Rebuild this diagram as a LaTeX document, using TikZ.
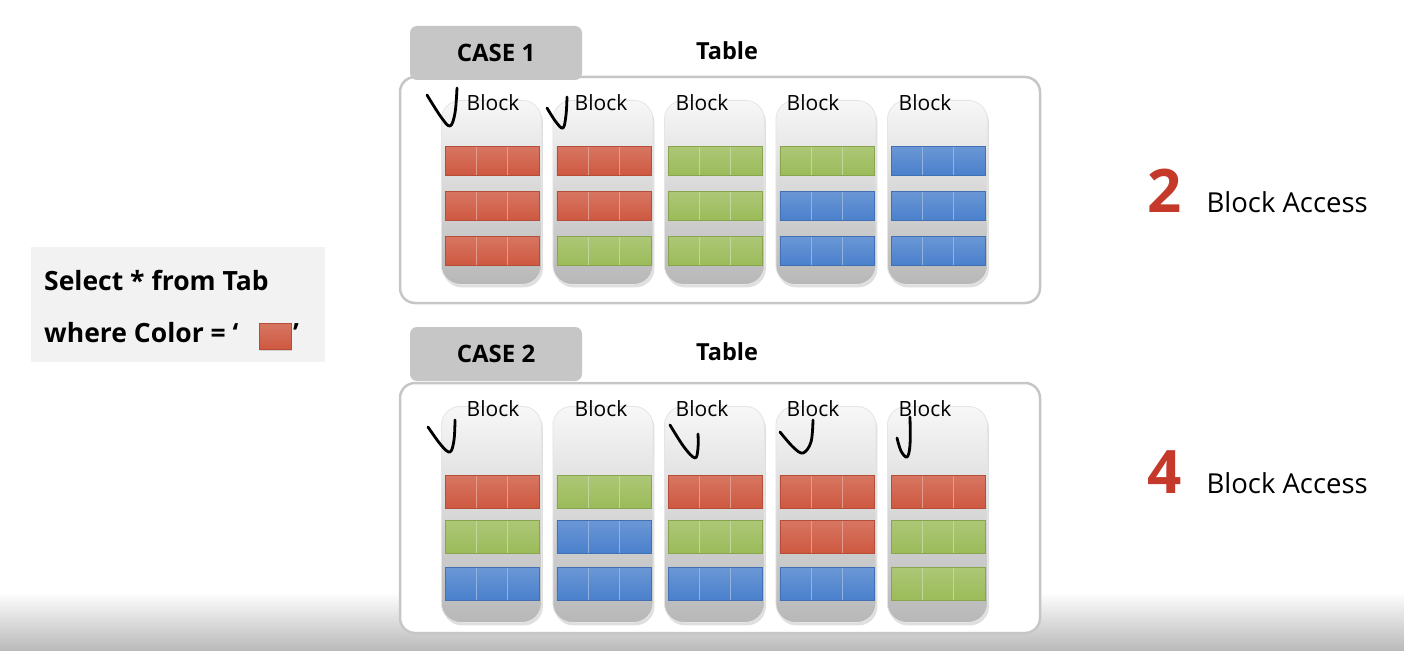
\documentclass[tikz,border=0pt]{standalone}
\usepackage{fontspec}
\setmainfont{Open Sans}
\usetikzlibrary{positioning}
\usetikzlibrary{shadows}

\definecolor{rowred}{HTML}{CE5840}
\definecolor{rowgreen}{HTML}{9BBB59}
\definecolor{rowblue}{HTML}{4A80CC}
\definecolor{tabgray}{HTML}{C6C6C6}
\definecolor{framegray}{HTML}{C6C6C6}
\definecolor{querygray}{HTML}{F2F2F2}
\definecolor{countred}{HTML}{C4392A}

\tikzset{
    tableframe/.style={draw=framegray, line width=2.5pt, fill=white, rounded corners=15pt, minimum width=640, inner sep=0pt},
    casetab/.style={fill=tabgray, rounded corners=7pt, minimum width=172, minimum height=54, inner sep=0pt, font=\fontsize{24}{28}\selectfont\bfseries},
    tabletitle/.style={font=\fontsize{23.5}{28}\selectfont\bfseries},
    blockbox/.style={rounded corners=19pt, top color=white!97!black, bottom color=black!28, draw=black!10, line width=.8pt, minimum width=100, inner sep=0pt, anchor=north west, drop shadow={opacity=.25, shadow xshift=1.5pt, shadow yshift=-3pt}},
    blocklabel/.style={font=\fontsize{21}{24}\selectfont, inner sep=0pt},
    rowbox/.style={top color=row#1!82!white, bottom color=row#1, draw=row#1!88!black, line width=.5pt, minimum width=94, inner sep=0pt, anchor=north west,
        path picture={
            \draw[row#1!60!white, line width=1pt] ([xshift=31.3pt]path picture bounding box.north west) -- ([xshift=31.3pt]path picture bounding box.south west);
            \draw[row#1!60!white, line width=1pt] ([xshift=62.6pt]path picture bounding box.north west) -- ([xshift=62.6pt]path picture bounding box.south west);
        }},
    checkmark/.style={line width=2.8pt, line cap=round, line join=round},
    querytext/.style={font=\fontsize{26.5}{30}\selectfont\bfseries, inner sep=0pt},
    countnum/.style={text=countred, font=\fontsize{60}{64}\selectfont\bfseries, inner sep=0pt},
    counttext/.style={font=\fontsize{27.5}{32}\selectfont, inner sep=0pt}
}

\begin{document}
\begin{tikzpicture}[x=1pt,y=-1pt]
    \useasboundingbox (0,0) rectangle (1404,650);
    \shade[top color=white, bottom color=black!27] (0,592) rectangle (1404,650);

    \node[fill=querygray, minimum width=294, minimum height=115, inner sep=0pt] (query) at (178,304.5) {};
    \node[querytext, anchor=base west] (select) at (44,290) {Select * from Tab};
    \node[querytext, anchor=base west] (where) at (44,342) {where Color = ‘};
    \node[rowbox=red, minimum width=32, minimum height=26, path picture={}, drop shadow={opacity=.3, shadow xshift=1pt, shadow yshift=-2pt}] (swatch) at (259,323) {};
    \node[querytext, anchor=base west] (quote) at (293,342) {’};

    \node[tableframe, minimum height=226] (frame1) at (720,190) {};
    \node[casetab] (tab1) at (496,53) {CASE 1};
    \node[tabletitle] (title1) at (727,51) {Table};

    \foreach \i/\lx/\ca/\cb/\cc in {1/493/red/red/red, 2/601/red/red/green, 3/702/green/green/green, 4/813/green/blue/blue, 5/925/blue/blue/blue} {
        \pgfmathsetmacro{\bx}{441+111.5*(\i-1)}
        \node[blockbox, minimum height=184] (a\i) at (\bx,100) {};
        \node[blocklabel] (al\i) at (\lx,103) {Block};
        \foreach \k/\col/\ry in {1/\ca/146, 2/\cb/191, 3/\cc/236}
            \node[rowbox=\col, minimum height=29] (a\i\k) at (\bx+4,\ry) {};
    }

    \node[tableframe, minimum height=250] (frame2) at (720,508) {};
    \node[casetab] (tab2) at (496,354) {CASE 2};
    \node[tabletitle] (title2) at (727,352) {Table};

    \foreach \i/\lx/\ca/\cb/\cc in {1/493/red/green/blue, 2/601/green/blue/blue, 3/702/red/green/blue, 4/813/red/red/blue, 5/925/red/green/green} {
        \pgfmathsetmacro{\bx}{441+111.5*(\i-1)}
        \node[blockbox, minimum height=216] (b\i) at (\bx,406) {};
        \node[blocklabel] (bl\i) at (\lx,409) {Block};
        \foreach \k/\col/\ry in {1/\ca/475, 2/\cb/520, 3/\cc/567}
            \node[rowbox=\col, minimum height=33] (b\i\k) at (\bx+4,\ry) {};
    }

    \draw[checkmark] plot[smooth, tension=.6] coordinates {(427,95) (441,117) (450,126) (455,113) (457,88)};
    \draw[checkmark] plot[smooth, tension=.6] coordinates {(547,108) (556,122) (563,128) (566,115) (567,97)};
    \draw[checkmark] plot[smooth, tension=.6] coordinates {(428,427) (441,445) (450,452) (454,440) (455,420)};
    \draw[checkmark] plot[smooth, tension=.6] coordinates {(670,425) (684,447) (695,458) (698,448) (698,434)};
    \draw[checkmark] plot[smooth, tension=.6] coordinates {(780,432) (793,447) (803,453) (811,442) (813,420)};
    \draw[checkmark] plot[smooth, tension=.6] coordinates {(897,438) (901,451) (907,457) (910,445) (910,417)};

    \node[countnum, anchor=base] (n1) at (1165,212) {2};
    \node[counttext, anchor=base west] (t1) at ([xshift=24pt]n1.base east) {Block Access};
    \node[countnum, anchor=base] (n2) at (1165,493) {4};
    \node[counttext, anchor=base west] (t2) at ([xshift=24pt]n2.base east) {Block Access};
\end{tikzpicture}
\end{document}
